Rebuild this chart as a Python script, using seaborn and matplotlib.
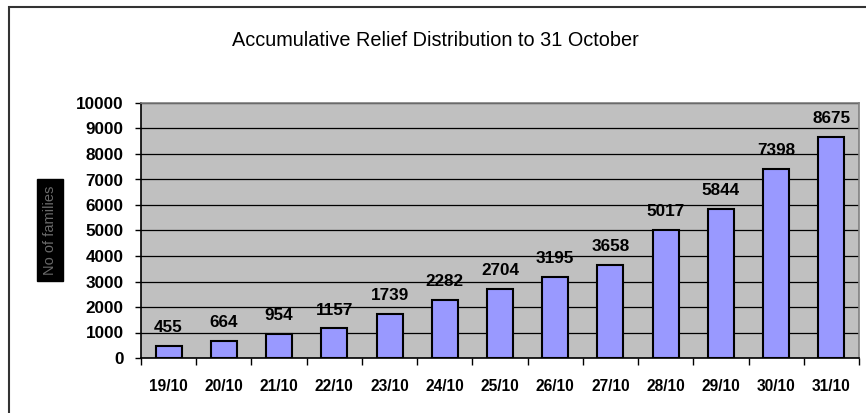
import matplotlib
matplotlib.use("Agg")
import matplotlib.pyplot as plt
import seaborn as sns
import pandas as pd
from matplotlib.patches import Rectangle
from matplotlib.ticker import MultipleLocator, FixedLocator

dates = ["19/10", "20/10", "21/10", "22/10", "23/10", "24/10", "25/10",
         "26/10", "27/10", "28/10", "29/10", "30/10", "31/10"]
families = [455, 664, 954, 1157, 1739, 2282, 2704, 3195, 3658, 5017, 5844, 7398, 8675]
title = "Accumulative Relief Distribution to 31 October"
ylabel = "No of families"

sns.set_style("white")
plt.rcParams['font.family'] = ['Liberation Sans', 'DejaVu Sans']
plt.rcParams['text.color'] = 'black'
plt.rcParams['xtick.color'] = 'black'
plt.rcParams['ytick.color'] = 'black'
plt.rcParams['axes.labelcolor'] = 'black'

df = pd.DataFrame({"date": dates, "families": families})

fig = plt.figure(figsize=(8.66, 4.13), dpi=100)
# outer frame
fig.patches.append(Rectangle((9/866, -0.1), 1.2, 1.1 - 7/413, transform=fig.transFigure,
                             fill=False, edgecolor="#333333", linewidth=1.5, zorder=0))

ax = fig.add_axes([141/866, 1 - 358/413, 718/866, (358 - 103)/413])
ax.set_facecolor("#C0C0C0")

sns.barplot(data=df, x="date", y="families", ax=ax, color="#9999FF",
            width=0.47, edgecolor="black", linewidth=1.5, saturation=1, zorder=3)

ax.set_ylim(0, 10000)
ax.set_xlim(-0.5, len(dates) - 0.5)
ax.yaxis.set_major_locator(MultipleLocator(1000))
ax.grid(axis="y", color="black", linewidth=0.9, zorder=1)
ax.set_axisbelow(True)

for i, v in enumerate(families):
    ax.text(i, v + 430, str(v), ha="center", va="bottom", fontsize=12.3,
            fontweight="bold", color="black", zorder=4)

for s in ["top", "right"]:
    ax.spines[s].set_color("#808080")
    ax.spines[s].set_linewidth(1.2)
for s in ["left", "bottom"]:
    ax.spines[s].set_color("black")
    ax.spines[s].set_linewidth(1.2)

ax.tick_params(axis="y", direction="out", length=4.5, width=1, color="black",
               labelcolor="black", labelsize=12.3, pad=8, left=True)
ax.tick_params(axis="x", which="major", length=0, labelsize=11.2, pad=15,
               labelcolor="black")
ax.xaxis.set_minor_locator(FixedLocator([i + 0.5 for i in range(-1, len(dates))]))
ax.tick_params(axis="x", which="minor", direction="out", length=5, width=1, color="black", bottom=True)
for lab in ax.get_xticklabels() + ax.get_yticklabels():
    lab.set_fontweight("bold")

ax.set_xlabel("")
ax.set_ylabel("")

fig.text(435/866, 1 - 40/413, title, ha="center", va="center", fontsize=14.3,
         color="black")
fig.text(50/866, 1 - 230/413, ylabel, rotation=90, ha="center", va="center",
         fontsize=10.5, color="#6a6a6a",
         bbox=dict(boxstyle="square,pad=0.4", facecolor="black", edgecolor="black"))

fig.savefig("out.png", dpi=100)
